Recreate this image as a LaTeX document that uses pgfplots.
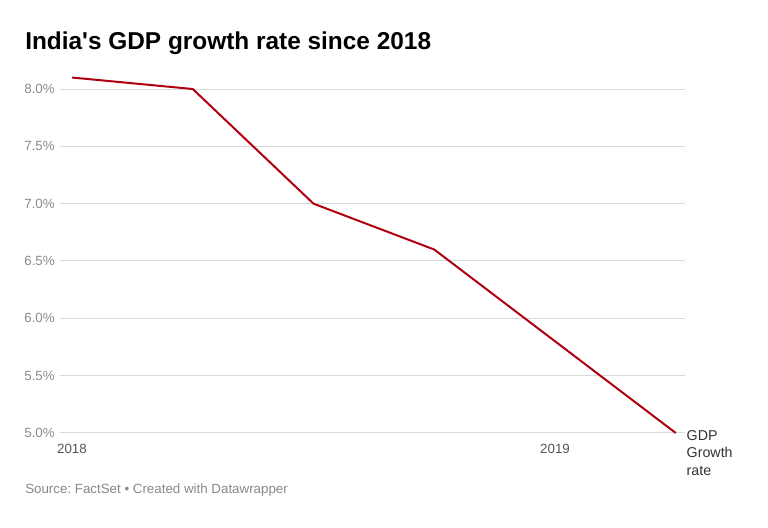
\documentclass[border=0pt]{standalone}
\usepackage{pgfplots}
\pgfplotsset{compat=1.18}
\usepackage{fontspec}
\setmainfont{Liberation Sans}
\frenchspacing
\definecolor{linered}{HTML}{B0000F}
\definecolor{gridgray}{HTML}{D9D9D9}
\definecolor{ytickgray}{HTML}{8A8A8A}
\definecolor{xtickgray}{HTML}{555555}
\definecolor{srcgray}{HTML}{888888}
\definecolor{lblgray}{HTML}{333333}
\begin{document}
\begin{tikzpicture}
\path[use as bounding box] (0,0) rectangle (576pt,396pt);
\node[anchor=base west, inner sep=0pt, font=\fontsize{18.3}{22}\selectfont\bfseries] at (18.75pt,358.5pt) {India\textquotesingle s GDP growth rate since 2018};
\node[anchor=base west, inner sep=0pt, font=\fontsize{10}{12}\selectfont, text=srcgray] at (18.75pt,25.5pt) {Source: FactSet • Created with Datawrapper};
\begin{axis}[
  at={(45pt,71.25pt)}, anchor=south west,
  scale only axis, width=468.75pt, height=258pt,
  xmin=-0.0994, xmax=5.0766, ymin=5, ymax=8,
  axis line style={draw=none}, clip=false,
  ymajorgrids, grid style={gridgray, line width=0.75pt},
  ytick={5,5.5,6,6.5,7,7.5,8},
  yticklabels={5.0\%,5.5\%,6.0\%,6.5\%,7.0\%,7.5\%,8.0\%},
  xtick={0,4}, xticklabels={2018,2019},
  major tick length=0pt, tick style={draw=none},
  yticklabel style={font=\fontsize{10}{12}\selectfont, text=ytickgray, anchor=east, inner sep=0pt, xshift=-3.75pt},
  xticklabel style={font=\fontsize{10}{12}\selectfont, text=xtickgray, anchor=north, inner sep=0pt, yshift=-8pt},
]
\addplot[linered, line width=1.5pt, mark=none] coordinates {
  (0,8.1) (1,8.0) (2,7.0) (3,6.6) (4,5.8) (5,5.0)
};
\node[anchor=north west, inner sep=0pt, align=left, font=\fontsize{10.7}{13}\selectfont, text=lblgray, xshift=8pt, yshift=2pt] at (axis cs:5,5) {GDP\\Growth\\rate};
\end{axis}
\end{tikzpicture}
\end{document}
